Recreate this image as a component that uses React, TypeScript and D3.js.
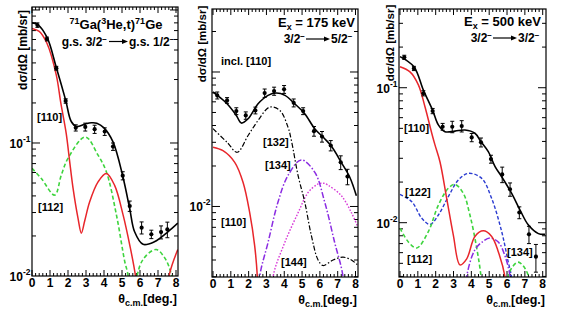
import React from "react";
import * as d3 from "d3";

type P = [number, number];
type E = [number, number, number];

// ---------- Panel 1: g.s. 3/2- -> g.s. 1/2- ----------
const p1Data: E[] = [
  [0.3, 0.77, 0.03], [0.83, 0.605, 0.02], [1.35, 0.365, 0.012], [1.87, 0.207, 0.008],
  [2.43, 0.13, 0.007], [2.96, 0.132, 0.009], [3.48, 0.127, 0.009], [4.04, 0.122, 0.008],
  [4.5, 0.094, 0.006], [5.04, 0.0568, 0.004], [5.43, 0.0336, 0.003], [6.09, 0.0231, 0.0024],
  [6.63, 0.0206, 0.0015], [7.17, 0.0214, 0.0024], [7.52, 0.0224, 0.003],
];
const p1Fit: P[] = [
  [0, 0.8], [0.3, 0.78], [0.83, 0.624], [1.35, 0.37], [1.87, 0.21], [2.18, 0.145], [2.47, 0.133],
  [2.95, 0.139], [3.3, 0.142], [3.6, 0.141], [4.0, 0.13], [4.5, 0.102], [5.05, 0.0558],
  [5.43, 0.032], [5.7, 0.0215], [6.17, 0.0173], [6.8, 0.0181], [7.55, 0.0215], [8.1, 0.025],
];
const p1L110: P[] = [
  [0, 0.727], [0.4, 0.69], [0.83, 0.562], [1.35, 0.324], [1.6, 0.2], [1.9, 0.118], [2.08, 0.075],
  [2.28, 0.0457], [2.56, 0.027], [2.74, 0.021], [2.93, 0.026], [3.2, 0.036], [3.67, 0.051],
  [4.13, 0.059], [4.59, 0.048], [5.06, 0.0288], [5.43, 0.0171], [5.74, 0.0102], [6.0, 0.005],
  [6.4, 0.0022], [6.9, 0.0015], [7.3, 0.005], [7.65, 0.0105], [8.1, 0.0158],
];
const p1L112: P[] = [
  [0, 0.0645], [0.52, 0.054], [1.26, 0.0406], [1.63, 0.0575], [2.0, 0.0767], [2.96, 0.111],
  [3.67, 0.081], [4.13, 0.0608], [4.69, 0.0288], [5.15, 0.0129], [5.33, 0.0102], [5.55, 0.004],
  [5.8, 0.0095], [6.2, 0.0135], [6.9, 0.0158], [7.4, 0.0135], [7.75, 0.0102], [8.1, 0.006],
];

// ---------- Panel 2: Ex = 175 keV ----------
const p2Data: E[] = [
  [0.24, 0.067, 0.004], [0.79, 0.0615, 0.003], [1.31, 0.0512, 0.003], [1.84, 0.0475, 0.003],
  [2.38, 0.0518, 0.003], [2.9, 0.0697, 0.005], [3.43, 0.0721, 0.005], [3.99, 0.0743, 0.005],
  [4.53, 0.059, 0.004], [5.06, 0.0512, 0.003], [5.67, 0.0363, 0.003], [6.12, 0.0331, 0.003],
  [6.61, 0.0284, 0.0025], [7.17, 0.0213, 0.0025], [7.55, 0.0167, 0.0022],
];
const p2Fit: P[] = [
  [0, 0.071], [0.24, 0.067], [0.79, 0.058], [1.31, 0.0475], [1.59, 0.0417], [1.97, 0.0449],
  [2.53, 0.058], [3.09, 0.067], [3.56, 0.0697], [4.04, 0.067], [4.59, 0.058], [5.15, 0.049],
  [5.71, 0.0379], [6.27, 0.0319], [6.65, 0.028], [7.2, 0.0213], [7.68, 0.0165], [8.05, 0.012],
];
const p2L110: P[] = [
  [0, 0.0276], [0.56, 0.026], [1.22, 0.0213], [1.69, 0.0151], [2.06, 0.009], [2.34, 0.0051],
  [2.49, 0.003], [2.56, 0.0015],
];
const p2L132: P[] = [
  [0, 0.0379], [0.79, 0.03], [1.36, 0.0253], [1.97, 0.0337], [2.53, 0.0436], [3.18, 0.0548],
  [3.75, 0.0518], [4.21, 0.0389], [4.4, 0.031], [4.78, 0.0169], [5.15, 0.0108], [5.52, 0.0061],
  [5.9, 0.004], [6.18, 0.00364], [6.74, 0.004], [7.3, 0.0042], [7.77, 0.004], [8.1, 0.0037],
];
const p2L134: P[] = [
  [2.55, 0.0015], [2.62, 0.003], [3.09, 0.0054], [3.65, 0.0108], [4.21, 0.017], [4.95, 0.0222],
  [5.71, 0.018], [6.27, 0.0108], [6.83, 0.0054], [7.3, 0.003], [7.38, 0.0015],
];
const p2L144: P[] = [
  [3.3, 0.0015], [3.37, 0.003], [4.03, 0.0054], [4.78, 0.009], [5.34, 0.0127], [5.9, 0.0147],
  [6.2, 0.0149], [6.46, 0.0144], [7.21, 0.012], [7.77, 0.009], [8.1, 0.0072],
];

// ---------- Panel 3: Ex = 500 keV ----------
const p3Data: E[] = [
  [0.24, 0.168, 0.006], [0.78, 0.139, 0.005], [1.31, 0.091, 0.004], [1.83, 0.0672, 0.003],
  [2.39, 0.0514, 0.003], [2.93, 0.0514, 0.005], [3.46, 0.052, 0.005], [4.02, 0.0428, 0.003],
  [4.54, 0.0394, 0.003], [5.1, 0.0296, 0.002], [5.73, 0.0228, 0.003], [6.17, 0.0177, 0.002],
  [6.69, 0.0119, 0.0012], [7.23, 0.0082, 0.0012], [7.62, 0.0056, 0.0013],
];
const p3Fit: P[] = [
  [0, 0.17], [0.78, 0.143], [1.31, 0.096], [1.83, 0.068], [2.15, 0.053], [2.52, 0.0472],
  [3.08, 0.0477], [3.64, 0.0486], [4.2, 0.046], [4.54, 0.0398], [4.95, 0.0336], [5.33, 0.026],
  [5.7, 0.0219], [6.26, 0.0165], [6.73, 0.0124], [7.2, 0.0096], [7.76, 0.0083], [8.13, 0.0082],
];
const p3L110: P[] = [
  [0, 0.143], [0.56, 0.131], [1.03, 0.105], [1.4, 0.0723], [1.78, 0.046], [1.96, 0.0377],
  [2.24, 0.0283], [2.62, 0.0151], [2.99, 0.0081], [3.36, 0.00487], [3.74, 0.0054], [4.2, 0.0079],
  [4.67, 0.0087], [5.14, 0.0079], [5.51, 0.0061], [5.88, 0.004], [6.0, 0.0025],
];
const p3L122: P[] = [
  [0, 0.0162], [0.66, 0.0143], [1.22, 0.0108], [1.68, 0.0097], [2.15, 0.0114], [2.71, 0.0156],
  [3.27, 0.0207], [3.83, 0.0232], [4.58, 0.0213], [5.14, 0.0151], [5.7, 0.0086], [6.07, 0.0051],
  [6.25, 0.004], [6.35, 0.0025],
];
const p3L112: P[] = [
  [0, 0.0091], [0.47, 0.0072], [0.94, 0.0065], [1.59, 0.0086], [2.15, 0.0135], [2.71, 0.018],
  [3.08, 0.0192], [3.55, 0.0165], [3.92, 0.0114], [4.3, 0.0065], [4.54, 0.004], [4.65, 0.0025],
];
const p3L112b: P[] = [
  [5.98, 0.0025], [6.07, 0.004], [6.3, 0.0047], [6.62, 0.0051], [6.9, 0.0048], [7.2, 0.004],
  [7.3, 0.0025],
];
const p3L134: P[] = [
  [3.65, 0.0025], [3.74, 0.004], [4.2, 0.0063], [4.67, 0.0073], [5.05, 0.0077], [5.51, 0.0072],
  [5.88, 0.0057], [6.17, 0.004], [6.25, 0.0025],
];

const xTicks = [0, 1, 2, 3, 4, 5, 6, 7, 8];

const FONT = "'Liberation Sans', Arial, Helvetica, sans-serif";
const RED = "#e8262b";
const GREEN = "#3ed43e";
const BLUE = "#2a3bd0";
const PURPLE = "#8a2be2";
const MAGENTA = "#d83ad8";

type Curve = { data: P[]; color: string; width: number; dash?: string };
type Label = { text: string; x: number; y: number };
type PanelCfg = {
  id: string;
  left: number; right: number; top: number; bottom: number;
  x0: number; x8: number;
  yDomain: [number, number];
  yLabels: { v: number; exp: string }[];
  data: E[];
  curves: Curve[];
  labels: Label[];
  ylab: { x: number; y: number; size: number };
  header: React.ReactNode;
};

function Arrow({ x1, x2, y }: { x1: number; x2: number; y: number }) {
  return (
    <g>
      <line x1={x1} x2={x2 - 4} y1={y} y2={y} stroke="#000" strokeWidth={1.2} />
      <path d={`M${x2},${y} L${x2 - 6},${y - 2.6} L${x2 - 6},${y + 2.6} Z`} fill="#000" />
    </g>
  );
}

function Panel({ cfg }: { cfg: PanelCfg }) {
  const x = d3.scaleLinear().domain([0, 8]).range([cfg.x0, cfg.x8]);
  const y = d3.scaleLog().domain(cfg.yDomain).range([cfg.bottom, cfg.top]);
  const line = d3
    .line<P>()
    .x((d) => x(d[0]))
    .y((d) => y(d[1]))
    .curve(d3.curveCatmullRom.alpha(0.5));

  const yt: { v: number; major: boolean }[] = [];
  const lo = Math.floor(Math.log10(cfg.yDomain[0]));
  const hi = Math.ceil(Math.log10(cfg.yDomain[1]));
  for (let e = lo; e <= hi; e++) {
    for (let m = 1; m <= 9; m++) {
      const v = m * Math.pow(10, e);
      if (v >= cfg.yDomain[0] * 1.001 && v <= cfg.yDomain[1] * 0.999) yt.push({ v, major: m === 1 });
    }
  }
  const xt: { v: number; major: boolean }[] = [];
  for (let i = 0; i <= 40; i++) {
    const v = i * 0.2;
    const px = x(v);
    if (px >= cfg.left && px <= cfg.right) xt.push({ v, major: i % 5 === 0 });
  }
  const clipId = `clip-${cfg.id}`;
  return (
    <g>
      <defs>
        <clipPath id={clipId}>
          <rect x={cfg.left} y={cfg.top} width={cfg.right - cfg.left} height={cfg.bottom - cfg.top} />
        </clipPath>
      </defs>
      {yt.map((t, i) => {
        const py = y(t.v);
        const len = t.major ? 8 : 4;
        return (
          <g key={`y${i}`} stroke="#000" strokeWidth={1}>
            <line x1={cfg.left} x2={cfg.left + len} y1={py} y2={py} />
            <line x1={cfg.right} x2={cfg.right - len} y1={py} y2={py} />
          </g>
        );
      })}
      {xt.map((t, i) => {
        const px = x(t.v);
        const len = t.major ? 6 : 3;
        return (
          <g key={`x${i}`} stroke="#000" strokeWidth={1}>
            <line x1={px} x2={px} y1={cfg.bottom} y2={cfg.bottom - len} />
            <line x1={px} x2={px} y1={cfg.top} y2={cfg.top + len} />
          </g>
        );
      })}
      <g clipPath={`url(#${clipId})`} fill="none">
        {cfg.curves.map((c, i) => (
          <path key={i} d={line(c.data) || ""} stroke={c.color} strokeWidth={c.width} strokeDasharray={c.dash} />
        ))}
        {cfg.data.map((d, i) => {
          const px = x(d[0]);
          const y1 = y(d[1] + d[2]);
          const y2 = y(d[1] - d[2]);
          return (
            <g key={`d${i}`} stroke="#000" strokeWidth={1}>
              <line x1={px} x2={px} y1={y1} y2={y2} />
              <line x1={px - 2} x2={px + 2} y1={y1} y2={y1} />
              <line x1={px - 2} x2={px + 2} y1={y2} y2={y2} />
              <circle cx={px} cy={y(d[1])} r={2.1} fill="#000" stroke="none" />
            </g>
          );
        })}
      </g>
      <rect x={cfg.left} y={cfg.top} width={cfg.right - cfg.left} height={cfg.bottom - cfg.top} fill="none" stroke="#000" strokeWidth={1.2} />
      {xTicks.map((v) => (
        <text key={`xl${v}`} x={x(v)} y={cfg.bottom + 11} textAnchor="middle" fontSize={12} fontWeight="bold" fontFamily={FONT}>
          {v}
        </text>
      ))}
      {cfg.yLabels.map((l, i) => (
        <text key={`yl${i}`} x={cfg.left - 1.5} y={y(l.v) + 5} textAnchor="end" fontSize={12} fontWeight="bold" fontFamily={FONT}>
          10<tspan fontSize={8.5} dy={-6}>{l.exp}</tspan>
        </text>
      ))}
      <text x={cfg.right - 1} y={cfg.bottom + 27} textAnchor="end" fontSize={12.5} fontWeight="bold" fontFamily={FONT}>
        θ<tspan fontSize={9} dy={3}>c.m.</tspan>
        <tspan dy={-3}>[deg.]</tspan>
      </text>
      <text
        transform={`translate(${cfg.ylab.x},${cfg.ylab.y}) rotate(-90)`}
        textAnchor="middle"
        fontSize={cfg.ylab.size}
        fontWeight="bold"
        fontFamily={FONT}
      >
        dσ/dΩ [mb/sr]
      </text>
      {cfg.labels.map((l, i) => (
        <text key={`lb${i}`} x={l.x} y={l.y} fontSize={11} fontWeight="bold" fontFamily={FONT}>
          {l.text}
        </text>
      ))}
      {cfg.header}
    </g>
  );
}

const tf = { fontSize: 13, fontWeight: "bold" as const, fontFamily: FONT };
const tf2 = { fontSize: 12, fontWeight: "bold" as const, fontFamily: FONT };

const panels: PanelCfg[] = [
  {
    id: "p1",
    left: 32, right: 178, top: 7, bottom: 276,
    x0: 32, x8: 176,
    yDomain: [0.01, 1.053],
    yLabels: [{ v: 0.1, exp: "-1" }, { v: 0.01, exp: "-2" }],
    data: p1Data,
    curves: [
      { data: p1L112, color: GREEN, width: 1.6, dash: "4,2.5" },
      { data: p1L110, color: RED, width: 1.5 },
      { data: p1Fit, color: "#000", width: 1.6 },
    ],
    labels: [
      { text: "[110]", x: 37, y: 121 },
      { text: "[112]", x: 38, y: 211 },
    ],
    ylab: { x: 27, y: 50, size: 12 },
    header: (
      <g>
        <text x={116} y={29} textAnchor="middle" {...tf}>
          <tspan fontSize={9} dy={-5}>71</tspan>
          <tspan dy={5}>Ga(</tspan>
          <tspan fontSize={9} dy={-5}>3</tspan>
          <tspan dy={5}>He,t)</tspan>
          <tspan fontSize={9} dy={-5}>71</tspan>
          <tspan dy={5}>Ge</tspan>
        </text>
        <text x={107} y={46} textAnchor="end" {...tf2}>
          g.s. 3/2<tspan fontSize={8} dy={-4}>−</tspan>
        </text>
        <Arrow x1={109} x2={128} y={41.5} />
        <text x={129} y={46} textAnchor="start" {...tf2}>
          g.s. 1/2<tspan fontSize={8} dy={-4}>−</tspan>
        </text>
      </g>
    ),
  },
  {
    id: "p2",
    left: 212, right: 358, top: 9, bottom: 277,
    x0: 213, x8: 355.5,
    yDomain: [0.00299, 0.294],
    yLabels: [{ v: 0.01, exp: "-2" }],
    data: p2Data,
    curves: [
      { data: p2L110, color: RED, width: 1.5 },
      { data: p2L144, color: MAGENTA, width: 1.4, dash: "1.6,1.6" },
      { data: p2L134, color: PURPLE, width: 1.5, dash: "6,2,1.5,2" },
      { data: p2L132, color: "#000", width: 1.2, dash: "5,2,1.5,2" },
      { data: p2Fit, color: "#000", width: 1.6 },
    ],
    labels: [
      { text: "incl. [110]", x: 221, y: 65 },
      { text: "[132]", x: 263, y: 146 },
      { text: "[134]", x: 265, y: 169 },
      { text: "[110]", x: 221, y: 226 },
      { text: "[144]", x: 281, y: 266 },
    ],
    ylab: { x: 206, y: 44, size: 11.5 },
    header: (
      <g>
        <text x={355} y={27} textAnchor="end" {...tf}>
          E<tspan fontSize={9} dy={3}>x</tspan>
          <tspan dy={-3}> = 175 keV</tspan>
        </text>
        <text x={305} y={43} textAnchor="end" {...tf2}>
          3/2<tspan fontSize={8} dy={-4}>−</tspan>
        </text>
        <Arrow x1={306} x2={330} y={39} />
        <text x={331} y={43} textAnchor="start" {...tf2}>
          5/2<tspan fontSize={8} dy={-4}>−</tspan>
        </text>
      </g>
    ),
  },
  {
    id: "p3",
    left: 399, right: 546, top: 9, bottom: 277,
    x0: 400, x8: 542.7,
    yDomain: [0.00396, 0.383],
    yLabels: [{ v: 0.1, exp: "-1" }, { v: 0.01, exp: "-2" }],
    data: p3Data,
    curves: [
      { data: p3L122, color: BLUE, width: 1.4, dash: "3.5,2" },
      { data: p3L112, color: GREEN, width: 1.6, dash: "4,2.5" },
      { data: p3L112b, color: GREEN, width: 1.6, dash: "4,2.5" },
      { data: p3L134, color: PURPLE, width: 1.5, dash: "6,2,1.5,2" },
      { data: p3L110, color: RED, width: 1.5 },
      { data: p3Fit, color: "#000", width: 1.6 },
    ],
    labels: [
      { text: "[110]", x: 404, y: 132 },
      { text: "[122]", x: 405, y: 196 },
      { text: "[112]", x: 407, y: 263 },
      { text: "[134]", x: 507, y: 256 },
    ],
    ylab: { x: 394, y: 43, size: 11.5 },
    header: (
      <g>
        <text x={541} y={26} textAnchor="end" {...tf}>
          E<tspan fontSize={9} dy={3}>x</tspan>
          <tspan dy={-3}> = 500 keV</tspan>
        </text>
        <text x={492} y={42} textAnchor="end" {...tf2}>
          3/2<tspan fontSize={8} dy={-4}>−</tspan>
        </text>
        <Arrow x1={493} x2={517} y={38} />
        <text x={518} y={42} textAnchor="start" {...tf2}>
          3/2<tspan fontSize={8} dy={-4}>−</tspan>
        </text>
      </g>
    ),
  },
];

export default function App() {
  return (
    <svg
      width={563}
      height={321}
      viewBox="0 0 563 321"
      style={{ position: "absolute", left: 0, top: 0, background: "#fff" }}
    >
      <rect x={0} y={0} width={563} height={321} fill="#fff" />
      {panels.map((p) => (
        <Panel key={p.id} cfg={p} />
      ))}
    </svg>
  );
}
